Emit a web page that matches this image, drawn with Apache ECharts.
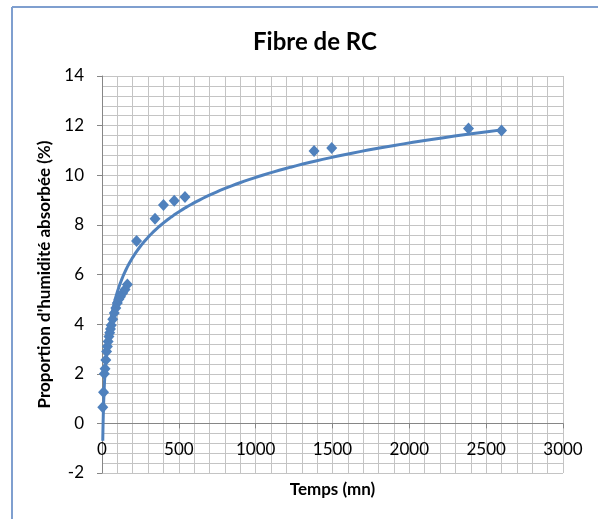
<!DOCTYPE html>
<html>
<head>
<meta charset="utf-8">
<script src="https://cdn.jsdelivr.net/npm/echarts@6/dist/echarts.min.js"></script>
<style>
html,body{margin:0;padding:0;background:#fff;}
#c{width:598px;height:519px;}
</style>
</head>
<body>
<div id="c"></div>
<script>
// Temps (mn)
var timeValues = [5, 10, 15, 20, 25, 30, 35, 40, 45, 50, 55, 60, 70, 80, 90, 100, 110, 120, 135, 150, 165, 225, 345, 400, 470, 540, 1380, 1495, 2385, 2600];
// Proportion d'humidité absorbée (%)
var moistureValues = [0.65, 1.25, 2.0, 2.2, 2.55, 2.9, 3.1, 3.3, 3.5, 3.65, 3.8, 3.95, 4.2, 4.45, 4.65, 4.85, 5.0, 5.1, 5.25, 5.4, 5.6, 7.35, 8.25, 8.8, 8.97, 9.12, 10.98, 11.1, 11.88, 11.8];
var xTicks = [0, 500, 1000, 1500, 2000, 2500, 3000];
var yTicks = [-2, 0, 2, 4, 6, 8, 10, 12, 14];

var points = timeValues.map(function (t, i) { return [t, moistureValues[i]]; });

// logarithmic trendline (least squares on ln x), as Excel does
var n = timeValues.length, sx = 0, sy = 0, sxx = 0, sxy = 0;
for (var i = 0; i < n; i++) {
  var lx = Math.log(timeValues[i]);
  sx += lx; sy += moistureValues[i]; sxx += lx * lx; sxy += lx * moistureValues[i];
}
var a = (n * sxy - sx * sy) / (n * sxx - sx * sx);
var b = (sy - a * sx) / n;
var tMin = Math.min.apply(null, timeValues), tMax = Math.max.apply(null, timeValues);
var trend = [];
var steps = 200;
for (var k = 0; k <= steps; k++) {
  var t = tMin * Math.pow(tMax / tMin, k / steps);
  trend.push([t, a * Math.log(t) + b]);
}

var gridTop = 76, gridBottom = 46, chartH = 519;
var plotH = chartH - gridTop - gridBottom;
var yMin = yTicks[0], yMax = yTicks[yTicks.length - 1];
// move the horizontal axis up to the value 0 (Excel "axis crosses at 0")
var xAxisOffset = -plotH * (0 - yMin) / (yMax - yMin);

var chart = echarts.init(document.getElementById('c'), null, {renderer: 'canvas'});
var font = 'Lato, "Open Sans", sans-serif';
chart.setOption({
  animation: false,
  backgroundColor: '#ffffff',
  title: {
    text: 'Fibre de RC',
    left: 248,
    top: 25,
    textStyle: {fontFamily: font, fontWeight: 'bold', fontSize: 24, color: '#000'}
  },
  graphic: [
    {type: 'line', shape: {x1: 12, y1: 7, x2: 598, y2: 7}, style: {stroke: '#7f9fcf', lineWidth: 2}, z: 100},
    {type: 'line', shape: {x1: 12, y1: 7, x2: 12, y2: 519}, style: {stroke: '#7f9fcf', lineWidth: 2}, z: 100}
  ],
  grid: {left: 102, right: 35, top: gridTop, bottom: gridBottom, outerBoundsMode: 'none', containLabel: false},
  xAxis: {
    type: 'value',
    min: xTicks[0], max: xTicks[xTicks.length - 1], interval: 500,
    offset: xAxisOffset,
    name: 'Temps (mn)',
    nameLocation: 'middle',
    nameGap: 58,
    nameTextStyle: {fontFamily: font, fontWeight: 'bold', fontSize: 17, color: '#000'},
    axisLine: {onZero: false, lineStyle: {color: '#868686', width: 1}},
    axisTick: {show: true, length: 5, lineStyle: {color: '#868686'}},
    axisLabel: {fontFamily: font, fontSize: 17, color: '#000', margin: 18,
      formatter: function (v) { return String(v); }},
    splitLine: {show: true, lineStyle: {color: '#c4c4c4', width: 1}},
    minorTick: {show: false, splitNumber: 5},
    minorSplitLine: {show: true, lineStyle: {color: '#c4c4c4', width: 1}}
  },
  yAxis: {
    type: 'value',
    min: yMin, max: yMax, interval: 2,
    name: "Proportion d'humidité absorbée (%)",
    nameLocation: 'middle',
    nameGap: 40,
    nameTextStyle: {fontFamily: font, fontWeight: 'bold', fontSize: 17, color: '#000'},
    axisLine: {show: true, onZero: false, lineStyle: {color: '#868686', width: 1}},
    axisTick: {show: true, length: 5, lineStyle: {color: '#868686'}},
    axisLabel: {fontFamily: font, fontSize: 17, color: '#000', margin: 18},
    splitLine: {show: true, lineStyle: {color: '#c4c4c4', width: 1}},
    minorTick: {show: false, splitNumber: 5},
    minorSplitLine: {show: true, lineStyle: {color: '#c4c4c4', width: 1}}
  },
  series: [
    {
      type: 'line',
      data: trend,
      showSymbol: false,
      symbol: 'none',
      clip: true,
      lineStyle: {color: '#4f81bd', width: 3},
      z: 3
    },
    {
      type: 'scatter',
      data: points,
      symbol: 'diamond',
      symbolSize: [11, 12],
      itemStyle: {color: '#4f81bd', opacity: 1},
      z: 4
    }
  ]
});
</script>
</body>
</html>
